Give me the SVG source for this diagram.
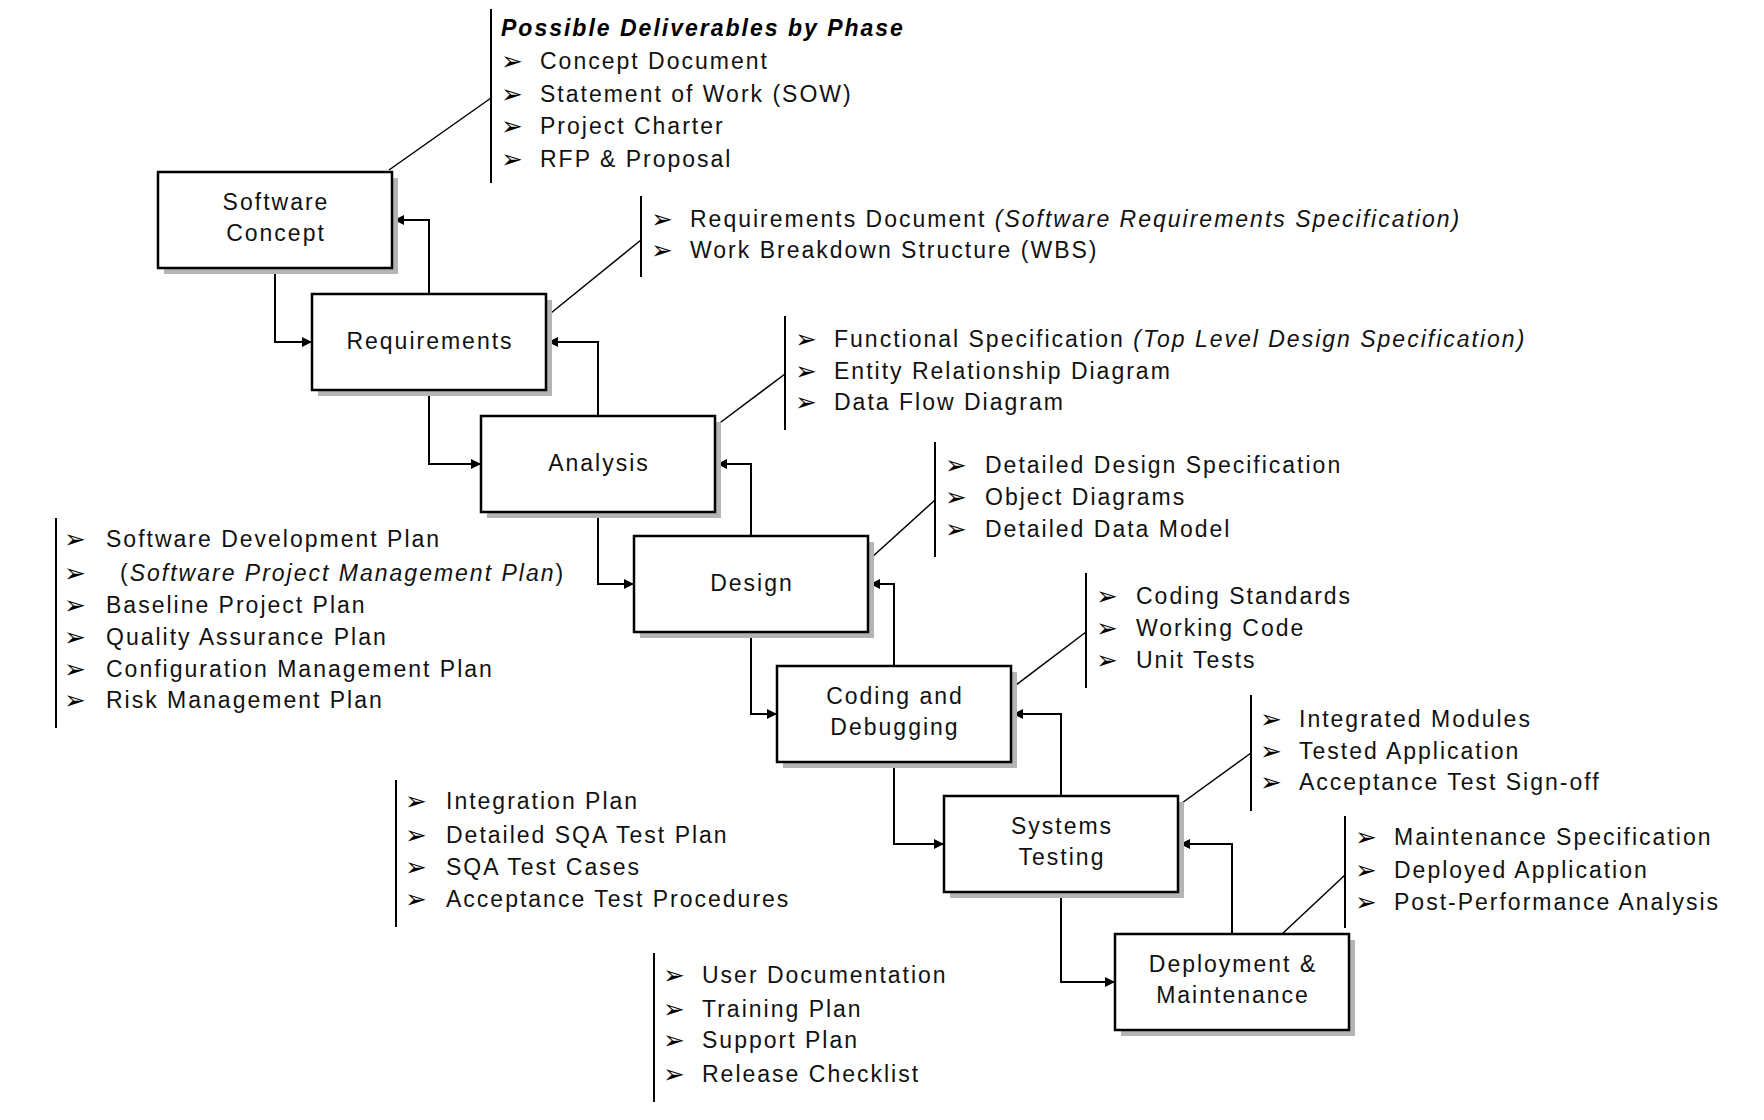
<svg xmlns="http://www.w3.org/2000/svg" width="1764" height="1120" viewBox="0 0 1764 1120">
<style>
.bg{fill:#fff}
.shadow{fill:#b4b4b4}
.box{fill:#fff;stroke:#000;stroke-width:2.5}
.lbl{font-family:"Liberation Sans",Arial,sans-serif;font-size:23px;letter-spacing:2px;text-anchor:middle;fill:#111}
.t{font-family:"Liberation Sans",Arial,sans-serif;font-size:23px;letter-spacing:2px;fill:#111}
.h{font-family:"Liberation Sans",Arial,sans-serif;font-size:23px;letter-spacing:2px;font-weight:bold;font-style:italic;fill:#000}
.i{font-style:italic}
.b{font-family:"DejaVu Sans",sans-serif;font-size:26px;fill:#000}
.bar{stroke:#000;stroke-width:2;fill:none}
.co{stroke:#000;stroke-width:1.5;fill:none}
.cn{stroke:#000;stroke-width:2;fill:none;marker-end:url(#ah)}
</style>
<defs>
<marker id="ah" markerUnits="userSpaceOnUse" markerWidth="10" markerHeight="10" refX="10" refY="5" orient="auto">
<path d="M0,0 L10,5 L0,10 z" fill="#000"/>
</marker>
</defs>
<rect class="bg" x="0" y="0" width="1764" height="1120"/>

<g id="connectors">
<path class="cn" d="M275,268 V342 H312"/>
<path class="cn" d="M429,294 V220 H394"/>
<path class="cn" d="M429,390 V464 H481"/>
<path class="cn" d="M598,416 V342 H548"/>
<path class="cn" d="M598,512 V584 H634"/>
<path class="cn" d="M751,536 V464 H717"/>
<path class="cn" d="M751,632 V714 H777"/>
<path class="cn" d="M894,666 V584 H870"/>
<path class="cn" d="M894,762 V844 H944"/>
<path class="cn" d="M1061,796 V714 H1013"/>
<path class="cn" d="M1061,892 V982 H1115"/>
<path class="cn" d="M1232,934 V844 H1180"/>
<line class="co" x1="389" y1="170" x2="491" y2="98"/>
<line class="co" x1="551" y1="313" x2="641" y2="240"/>
<line class="co" x1="717" y1="425" x2="785" y2="374"/>
<line class="co" x1="871" y1="558" x2="935" y2="500"/>
<line class="co" x1="1012" y1="688" x2="1086" y2="632"/>
<line class="co" x1="1182" y1="803" x2="1251" y2="753"/>
<line class="co" x1="1282" y1="934" x2="1345" y2="875"/>
</g>

<g id="software-concept">
<rect class="shadow" x="164" y="178" width="234" height="96"/>
<rect class="box" x="158" y="172" width="234" height="96"/>
<text class="lbl" x="276" y="210">Software</text>
<text class="lbl" x="276" y="241">Concept</text>
</g>
<g id="requirements">
<rect class="shadow" x="318" y="300" width="234" height="96"/>
<rect class="box" x="312" y="294" width="234" height="96"/>
<text class="lbl" x="430" y="349">Requirements</text>
</g>
<g id="analysis">
<rect class="shadow" x="487" y="422" width="234" height="96"/>
<rect class="box" x="481" y="416" width="234" height="96"/>
<text class="lbl" x="599" y="471">Analysis</text>
</g>
<g id="design">
<rect class="shadow" x="640" y="542" width="234" height="96"/>
<rect class="box" x="634" y="536" width="234" height="96"/>
<text class="lbl" x="752" y="591">Design</text>
</g>
<g id="coding">
<rect class="shadow" x="783" y="672" width="234" height="96"/>
<rect class="box" x="777" y="666" width="234" height="96"/>
<text class="lbl" x="895" y="704">Coding and</text>
<text class="lbl" x="895" y="735">Debugging</text>
</g>
<g id="systems-testing">
<rect class="shadow" x="950" y="802" width="234" height="96"/>
<rect class="box" x="944" y="796" width="234" height="96"/>
<text class="lbl" x="1062" y="834">Systems</text>
<text class="lbl" x="1062" y="865">Testing</text>
</g>
<g id="deployment">
<rect class="shadow" x="1121" y="940" width="234" height="96"/>
<rect class="box" x="1115" y="934" width="234" height="96"/>
<text class="lbl" x="1233" y="972">Deployment &amp;</text>
<text class="lbl" x="1233" y="1003">Maintenance</text>
</g>

<g id="list-concept">
<line class="bar" x1="491" y1="9" x2="491" y2="183"/>
<text class="h" x="501" y="36">Possible Deliverables by Phase</text>
<text class="b" x="501" y="70">➢</text><text class="t" x="540" y="69">Concept Document</text>
<text class="b" x="501" y="103">➢</text><text class="t" x="540" y="102">Statement of Work (SOW)</text>
<text class="b" x="501" y="135">➢</text><text class="t" x="540" y="134">Project Charter</text>
<text class="b" x="501" y="168">➢</text><text class="t" x="540" y="167">RFP &amp; Proposal</text>
</g>
<g id="list-requirements">
<line class="bar" x1="641" y1="196" x2="641" y2="277"/>
<text class="b" x="651" y="228">➢</text><text class="t" x="690" y="227">Requirements Document <tspan class="i">(Software Requirements Specification)</tspan></text>
<text class="b" x="651" y="259">➢</text><text class="t" x="690" y="258">Work Breakdown Structure (WBS)</text>
</g>
<g id="list-analysis">
<line class="bar" x1="785" y1="316" x2="785" y2="430"/>
<text class="b" x="795" y="348">➢</text><text class="t" x="834" y="347">Functional Specification <tspan class="i">(Top Level Design Specification)</tspan></text>
<text class="b" x="795" y="380">➢</text><text class="t" x="834" y="379">Entity Relationship Diagram</text>
<text class="b" x="795" y="411">➢</text><text class="t" x="834" y="410">Data Flow Diagram</text>
</g>
<g id="list-design">
<line class="bar" x1="935" y1="442" x2="935" y2="557"/>
<text class="b" x="945" y="474">➢</text><text class="t" x="985" y="473">Detailed Design Specification</text>
<text class="b" x="945" y="506">➢</text><text class="t" x="985" y="505">Object Diagrams</text>
<text class="b" x="945" y="538">➢</text><text class="t" x="985" y="537">Detailed Data Model</text>
</g>
<g id="list-coding">
<line class="bar" x1="1086" y1="573" x2="1086" y2="688"/>
<text class="b" x="1096" y="605">➢</text><text class="t" x="1136" y="604">Coding Standards</text>
<text class="b" x="1096" y="637">➢</text><text class="t" x="1136" y="636">Working Code</text>
<text class="b" x="1096" y="669">➢</text><text class="t" x="1136" y="668">Unit Tests</text>
</g>
<g id="list-systems">
<line class="bar" x1="1251" y1="695" x2="1251" y2="811"/>
<text class="b" x="1260" y="728">➢</text><text class="t" x="1299" y="727">Integrated Modules</text>
<text class="b" x="1260" y="760">➢</text><text class="t" x="1299" y="759">Tested Application</text>
<text class="b" x="1260" y="791">➢</text><text class="t" x="1299" y="790">Acceptance Test Sign-off</text>
</g>
<g id="list-deployment">
<line class="bar" x1="1345" y1="816" x2="1345" y2="928"/>
<text class="b" x="1355" y="846">➢</text><text class="t" x="1394" y="845">Maintenance Specification</text>
<text class="b" x="1355" y="879">➢</text><text class="t" x="1394" y="878">Deployed Application</text>
<text class="b" x="1355" y="911">➢</text><text class="t" x="1394" y="910">Post-Performance Analysis</text>
</g>
<g id="list-plans">
<line class="bar" x1="56" y1="518" x2="56" y2="728"/>
<text class="b" x="64" y="548">➢</text><text class="t" x="106" y="547">Software Development Plan</text>
<text class="b" x="64" y="582">➢</text><text class="t" x="120" y="581">(<tspan class="i">Software Project Management Plan</tspan>)</text>
<text class="b" x="64" y="614">➢</text><text class="t" x="106" y="613">Baseline Project Plan</text>
<text class="b" x="64" y="646">➢</text><text class="t" x="106" y="645">Quality Assurance Plan</text>
<text class="b" x="64" y="678">➢</text><text class="t" x="106" y="677">Configuration Management Plan</text>
<text class="b" x="64" y="709">➢</text><text class="t" x="106" y="708">Risk Management Plan</text>
</g>
<g id="list-testing-plans">
<line class="bar" x1="396" y1="780" x2="396" y2="927"/>
<text class="b" x="405" y="810">➢</text><text class="t" x="446" y="809">Integration Plan</text>
<text class="b" x="405" y="844">➢</text><text class="t" x="446" y="843">Detailed SQA Test Plan</text>
<text class="b" x="405" y="876">➢</text><text class="t" x="446" y="875">SQA Test Cases</text>
<text class="b" x="405" y="908">➢</text><text class="t" x="446" y="907">Acceptance Test Procedures</text>
</g>
<g id="list-release">
<line class="bar" x1="654" y1="953" x2="654" y2="1102"/>
<text class="b" x="663" y="984">➢</text><text class="t" x="702" y="983">User Documentation</text>
<text class="b" x="663" y="1018">➢</text><text class="t" x="702" y="1017">Training Plan</text>
<text class="b" x="663" y="1049">➢</text><text class="t" x="702" y="1048">Support Plan</text>
<text class="b" x="663" y="1083">➢</text><text class="t" x="702" y="1082">Release Checklist</text>
</g>
</svg>
